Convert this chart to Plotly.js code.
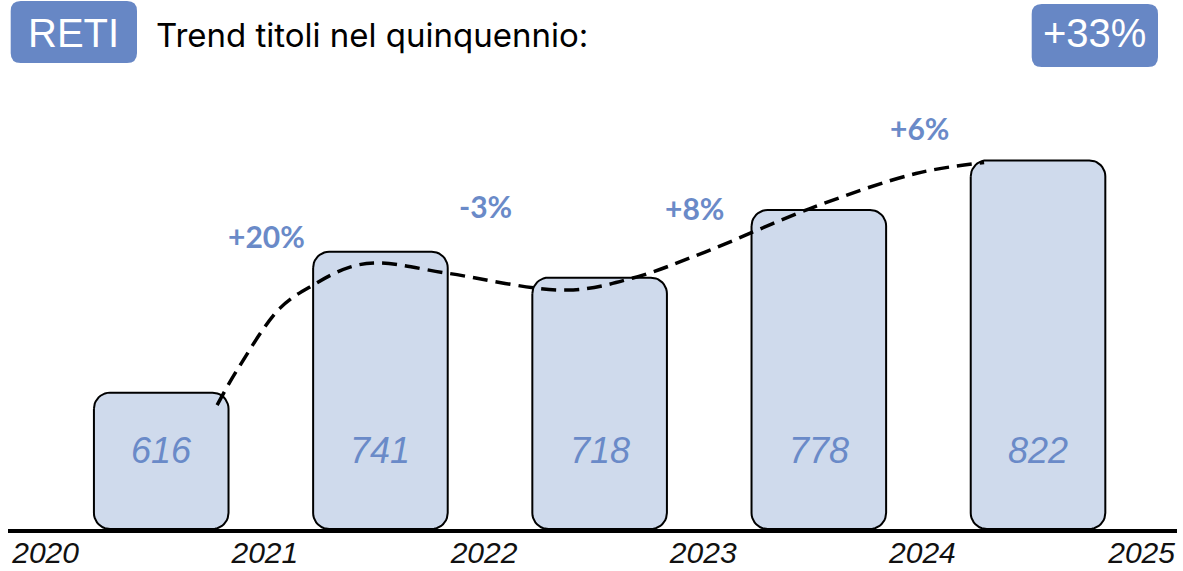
<!DOCTYPE html>
<html>
<head>
<meta charset="utf-8">
<script src="https://cdn.plot.ly/plotly-3.0.1.min.js"></script>
<style>html,body{margin:0;padding:0;background:#fff;}#chart{width:1183px;height:571px;}</style>
</head>
<body>
<div id="chart"></div>
<script>
// ---- data ----
const years = ["2020", "2021", "2022", "2023", "2024", "2025"];
const yearPos = [0, 1, 2, 3, 4, 5];
const barPos = [0.5, 1.5, 2.5, 3.5, 4.5];
const barValues = [616, 741, 718, 778, 822];
const changeLabels = ["+20%", "-3%", "+8%", "+6%"];
const changeX = [0.98, 1.981, 2.931, 3.957];
const changeY = [755, 782, 780, 851];
const trendX = [0.755, 0.846, 1.042, 1.193, 1.361, 1.498, 1.804, 2.351, 2.652, 2.981, 3.46, 3.943, 4.254];
const trendY = [605, 636, 691, 711.5, 727.4, 731, 722, 707, 717.7, 740.7, 779.3, 810.4, 820.1];
const totalChange = "+33%";
const sectorName = "RETI";
const titleText = "Trend titoli nel quinquennio:";

// ---- layout constants ----
const W = 1183, H = 571;
const M = {l: 8, r: 6, t: 80, b: 42};
const plotW = W - M.l - M.r, plotH = H - M.t - M.b;
const xRange = [-0.199, 5.134];
const yRange = [495.1, 893.3];
const pxX = plotW / (xRange[1] - xRange[0]);
const pxY = plotH / (yRange[1] - yRange[0]);
const BLUE = "#6787C5";
const TXTBLUE = "#6A8AC8";
const FILL = "#CFDAEC";
const barWidth = 0.614;
const radius = 16;

function roundRectPts(xc, hw, y0, y1, r) {
  const rx = r / pxX, ry = r / pxY;
  const x0 = xc - hw, x1 = xc + hw;
  const corners = [
    [x0 + rx, y1 - ry, 180, 90],
    [x1 - rx, y1 - ry, 90, 0],
    [x1 - rx, y0 + ry, 0, -90],
    [x0 + rx, y0 + ry, -90, -180]
  ];
  const xs = [], ys = [];
  const N = 10;
  corners.forEach(([cx, cy, a0, a1]) => {
    for (let i = 0; i <= N; i++) {
      const a = (a0 + (a1 - a0) * i / N) * Math.PI / 180;
      xs.push(cx + rx * Math.cos(a));
      ys.push(cy + ry * Math.sin(a));
    }
  });
  xs.push(xs[0]); ys.push(ys[0]);
  return {xs, ys};
}

const traces = [];
barPos.forEach((xc, i) => {
  const p = roundRectPts(xc, barWidth / 2, yRange[0], barValues[i], radius);
  traces.push({
    type: "scatter", mode: "lines", x: p.xs, y: p.ys,
    fill: "toself", fillcolor: FILL,
    line: {color: "#000", width: 2},
    hoverinfo: "skip", showlegend: false
  });
});
traces.push({
  type: "scatter", mode: "lines", x: trendX, y: trendY,
  line: {color: "#000", width: 3.5, dash: "15px,8px", shape: "spline", smoothing: 1},
  hoverinfo: "skip", showlegend: false
});

const annotations = [];
barPos.forEach((xc, i) => {
  annotations.push({
    x: xc, xref: "x", y: (529 - 450) / plotH, yref: "paper",
    text: String(barValues[i]), showarrow: false,
    xanchor: "center", yanchor: "middle",
    font: {family: "Liberation Sans, Arial, sans-serif", size: 36, color: TXTBLUE, style: "italic"}
  });
});
changeLabels.forEach((t, i) => {
  annotations.push({
    x: changeX[i], xref: "x", y: changeY[i], yref: "y",
    text: t, showarrow: false, xanchor: "center", yanchor: "middle",
    font: {family: "Lato, sans-serif", size: 30, color: TXTBLUE, weight: 700}
  });
});
// header texts
function px2paperX(px) { return (px - M.l) / plotW; }
function px2paperY(py) { return (H - M.b - py) / plotH; }
annotations.push({
  x: px2paperX(73.8), xref: "paper", y: px2paperY(33), yref: "paper",
  text: sectorName, showarrow: false, xanchor: "center", yanchor: "middle",
  font: {family: "Liberation Sans, Arial, sans-serif", size: 40, color: "#fff"}
});
annotations.push({
  x: px2paperX(154), xref: "paper", y: px2paperY(35), yref: "paper",
  text: titleText, showarrow: false, xanchor: "left", yanchor: "middle",
  font: {family: "Inter, sans-serif", size: 33, color: "#000"}
});
annotations.push({
  x: px2paperX(1094.8), xref: "paper", y: px2paperY(33), yref: "paper",
  text: totalChange, showarrow: false, xanchor: "center", yanchor: "middle",
  font: {family: "Liberation Sans, Arial, sans-serif", size: 40, color: "#fff"}
});

function roundBoxPath(px0, py0, px1, py1, r) {
  const x0 = px2paperX(px0), x1 = px2paperX(px1);
  const yT = px2paperY(py0), yB = px2paperY(py1);
  const rx = r / plotW, ry = r / plotH;
  return `M ${x0},${yB + ry} L ${x0},${yT - ry} Q ${x0},${yT} ${x0 + rx},${yT} L ${x1 - rx},${yT} Q ${x1},${yT} ${x1},${yT - ry} L ${x1},${yB + ry} Q ${x1},${yB} ${x1 - rx},${yB} L ${x0 + rx},${yB} Q ${x0},${yB} ${x0},${yB + ry} Z`;
}
const shapes = [
  {type: "path", xref: "paper", yref: "paper", path: roundBoxPath(10.7, 1, 137, 63, 10), fillcolor: BLUE, line: {width: 0}, layer: "below"},
  {type: "path", xref: "paper", yref: "paper", path: roundBoxPath(1031.7, 4, 1158, 67, 10), fillcolor: BLUE, line: {width: 0}, layer: "below"}
];

const layout = {
  width: W, height: H,
  margin: M,
  paper_bgcolor: "#fff", plot_bgcolor: "#fff",
  showlegend: false,
  xaxis: {
    range: xRange, showgrid: false, zeroline: false,
    showline: true, linecolor: "#000", linewidth: 4,
    tickvals: yearPos, ticktext: years, ticks: "",
    ticklabelshift: -6, ticklabelstandoff: -6,
    tickfont: {family: "Liberation Sans, Arial, sans-serif", size: 30, color: "#111", style: "italic"},
    fixedrange: true
  },
  yaxis: {range: yRange, visible: false, showgrid: false, zeroline: false, fixedrange: true},
  annotations: annotations,
  shapes: shapes
};

Plotly.newPlot("chart", traces, layout, {displayModeBar: false, staticPlot: true});
</script>
</body>
</html>
